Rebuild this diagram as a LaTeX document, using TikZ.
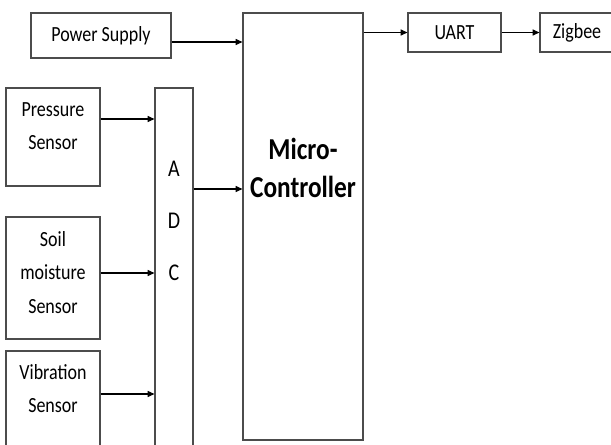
\documentclass[tikz,border=0pt]{standalone}
\usepackage{fontspec}
\setmainfont{Carlito}
\usepackage{xcolor}
\usetikzlibrary{arrows.meta}

% taller letters, as in the reference
\newcommand{\tall}[1]{\scalebox{1}[1.2]{#1}}

\tikzset{
  blk/.style={draw=black!70, line width=0.9pt, inner sep=0pt},
  txt/.style={font=\fontsize{13.5}{25}\selectfont, align=center},
  arr/.style={-{Triangle[length=5pt,width=4.5pt]}, line width=0.8pt}
}

\begin{document}
\begin{tikzpicture}[x=0.75pt, y=-0.75pt]
        \clip (0,0) rectangle (611,444);

        % Top row
        \node[blk, txt, minimum width=105pt, minimum height=33.75pt] (psu) at (101,35.5) {\tall{Power Supply}};
        \node[blk, txt, minimum width=69.75pt, minimum height=29.25pt] (uart) at (454.5,32.5) {\tall{UART}};
        \node[blk, txt, minimum width=55.5pt, minimum height=29.25pt] (zigbee) at (577,32.5) {\tall{Zigbee}};

        % Controller and converter
        \node[blk, minimum width=90pt, minimum height=320.25pt,
              label={[txt, font=\fontsize{19}{28}\selectfont\bfseries, yshift=43.9pt]center:{\tall{Micro-}\\\tall{Controller}}}] (mcu) at (303,226.5) {};
        \node[blk, minimum width=28.5pt, minimum height=271.5pt,
              label={[txt, font=\fontsize{15}{39}\selectfont, yshift=36.4pt]center:{\tall{A}\\\tall{D}\\\tall{C}}}] (adc) at (174,269) {};

        % Sensors
        \node[blk, minimum width=70.5pt, minimum height=73.5pt,
              label={[txt, yshift=7.9pt]center:{\tall{Pressure}\\\tall{Sensor}}}] (pressure) at (53,137) {};
        \node[blk, minimum width=70.5pt, minimum height=91.5pt,
              label={[txt, yshift=4.1pt]center:{\tall{Soil}\\\tall{moisture}\\\tall{Sensor}}}] (soil) at (53,278) {};
        \node[blk, minimum width=70.5pt, minimum height=73.5pt,
              label={[txt, yshift=8.6pt]center:{\tall{Vibration}\\\tall{Sensor}}}] (vibration) at (53,400) {};

        % Connections
        \draw[arr] (psu.east |- 0,42) -- (mcu.west |- 0,42);
        \draw[arr] (mcu.east |- uart.west) -- (uart.west);
        \draw[arr] (uart) -- (zigbee);
        \draw[arr] (adc.east |- 0,189) -- (mcu.west |- 0,189);
        \draw[arr] (pressure.east |- 0,119) -- (adc.west |- 0,119);
        \draw[arr] (soil.east |- 0,273) -- (adc.west |- 0,273);
        \draw[arr] (vibration.east |- 0,394) -- (adc.west |- 0,394);
    \end{tikzpicture}
\end{document}
